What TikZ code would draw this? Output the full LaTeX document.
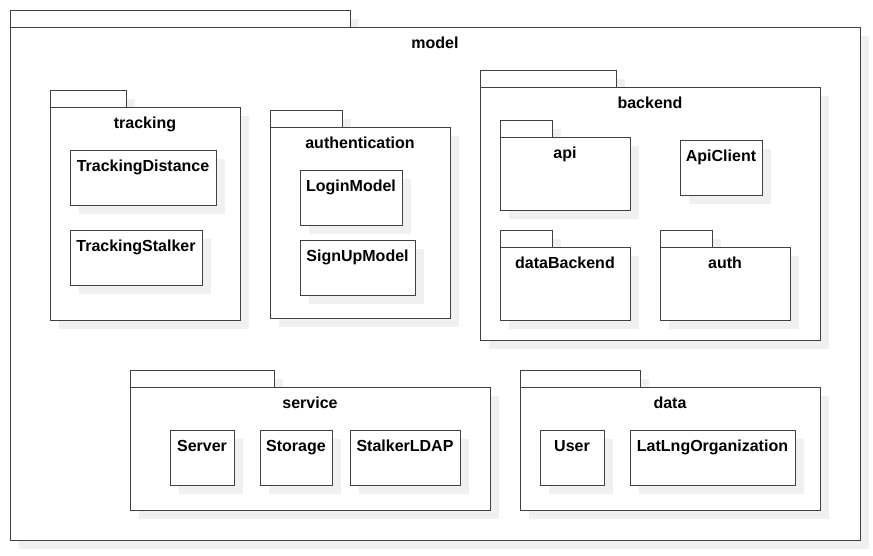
\documentclass[tikz,border=0pt]{standalone}
\usepackage{fontspec}
\setmainfont{Liberation Sans}
\usetikzlibrary{positioning,shadows}

\begin{document}
\begin{tikzpicture}[x=1pt,y=-1pt,
    every node/.style={font=\fontsize{16}{19}\selectfont\bfseries},
    softshadow/.style={drop shadow={shadow xshift=9pt,shadow yshift=-9pt,
                       fill=black!6,opacity=1}},
    box/.style={draw=black!75,line width=1pt,fill=white,softshadow,
                inner sep=0pt,outer sep=0pt,anchor=north west},
    pkgtab/.style={box,minimum height=17pt},
    pkgbody/.style={box},
    classbox/.style={box,minimum height=55pt},
    boxname/.style={anchor=base,inner sep=0pt,yshift=-21.5pt}]

  \useasboundingbox (0,0) rectangle (873,555);

  % model
  \node[pkgtab,minimum width=340pt] (modeltab) at (10,10) {};
  \node[pkgbody,minimum width=850pt,minimum height=513pt]
       (model) at (modeltab.south west) {};
  \node[boxname] (modelname) at (model.north) {model};

  % tracking
  \node[pkgtab,minimum width=76pt] (trackingtab) at (50,90) {};
  \node[pkgbody,minimum width=190pt,minimum height=213pt]
       (tracking) at (trackingtab.south west) {};
  \node[boxname] (trackingname) at (tracking.north) {tracking};
  \node[classbox,minimum width=146pt] (distance) at (70,150) {};
  \node[boxname] (distancename) at (distance.north) {TrackingDistance};
  \node[classbox,minimum width=132pt] (stalker) at (70,230) {};
  \node[boxname] (stalkername) at (stalker.north) {TrackingStalker};

  % authentication
  \node[pkgtab,minimum width=72pt] (authenticationtab) at (270,110) {};
  \node[pkgbody,minimum width=180pt,minimum height=191pt]
       (authentication) at (authenticationtab.south west) {};
  \node[boxname] (authenticationname) at (authentication.north) {authentication};
  \node[classbox,minimum width=102pt] (login) at (300,170) {};
  \node[boxname] (loginname) at (login.north) {LoginModel};
  \node[classbox,minimum width=115pt] (signup) at (300,240) {};
  \node[boxname] (signupname) at (signup.north) {SignUpModel};

  % backend
  \node[pkgtab,minimum width=136pt] (backendtab) at (480,70) {};
  \node[pkgbody,minimum width=340pt,minimum height=253pt]
       (backend) at (backendtab.south west) {};
  \node[boxname] (backendname) at (backend.north) {backend};
  \node[pkgtab,minimum width=52pt] (apitab) at (500,120) {};
  \node[pkgbody,minimum width=130pt,minimum height=73pt]
       (api) at (apitab.south west) {};
  \node[boxname] (apiname) at (api.north) {api};
  \node[classbox,minimum width=82pt] (apiclient) at (680,140) {};
  \node[boxname] (apiclientname) at (apiclient.north) {ApiClient};
  \node[pkgtab,minimum width=52pt] (databackendtab) at (500,230) {};
  \node[pkgbody,minimum width=130pt,minimum height=73pt]
       (databackend) at (databackendtab.south west) {};
  \node[boxname] (databackendname) at (databackend.north) {dataBackend};
  \node[pkgtab,minimum width=52pt] (authtab) at (660,230) {};
  \node[pkgbody,minimum width=130pt,minimum height=73pt]
       (auth) at (authtab.south west) {};
  \node[boxname] (authname) at (auth.north) {auth};

  % service
  \node[pkgtab,minimum width=144pt] (servicetab) at (130,370) {};
  \node[pkgbody,minimum width=360pt,minimum height=123pt]
       (service) at (servicetab.south west) {};
  \node[boxname] (servicename) at (service.north) {service};
  \node[classbox,minimum width=64pt] (server) at (170,430) {};
  \node[boxname] (servername) at (server.north) {Server};
  \node[classbox,minimum width=72pt] (storage) at (260,430) {};
  \node[boxname] (storagename) at (storage.north) {Storage};
  \node[classbox,minimum width=110pt] (ldap) at (350,430) {};
  \node[boxname] (ldapname) at (ldap.north) {StalkerLDAP};

  % data
  \node[pkgtab,minimum width=120pt] (datatab) at (520,370) {};
  \node[pkgbody,minimum width=300pt,minimum height=123pt]
       (data) at (datatab.south west) {};
  \node[boxname] (dataname) at (data.north) {data};
  \node[classbox,minimum width=64pt] (user) at (540,430) {};
  \node[boxname] (username) at (user.north) {User};
  \node[classbox,minimum width=165pt] (latlng) at (630,430) {};
  \node[boxname] (latlngname) at (latlng.north) {LatLngOrganization};
\end{tikzpicture}
\end{document}
